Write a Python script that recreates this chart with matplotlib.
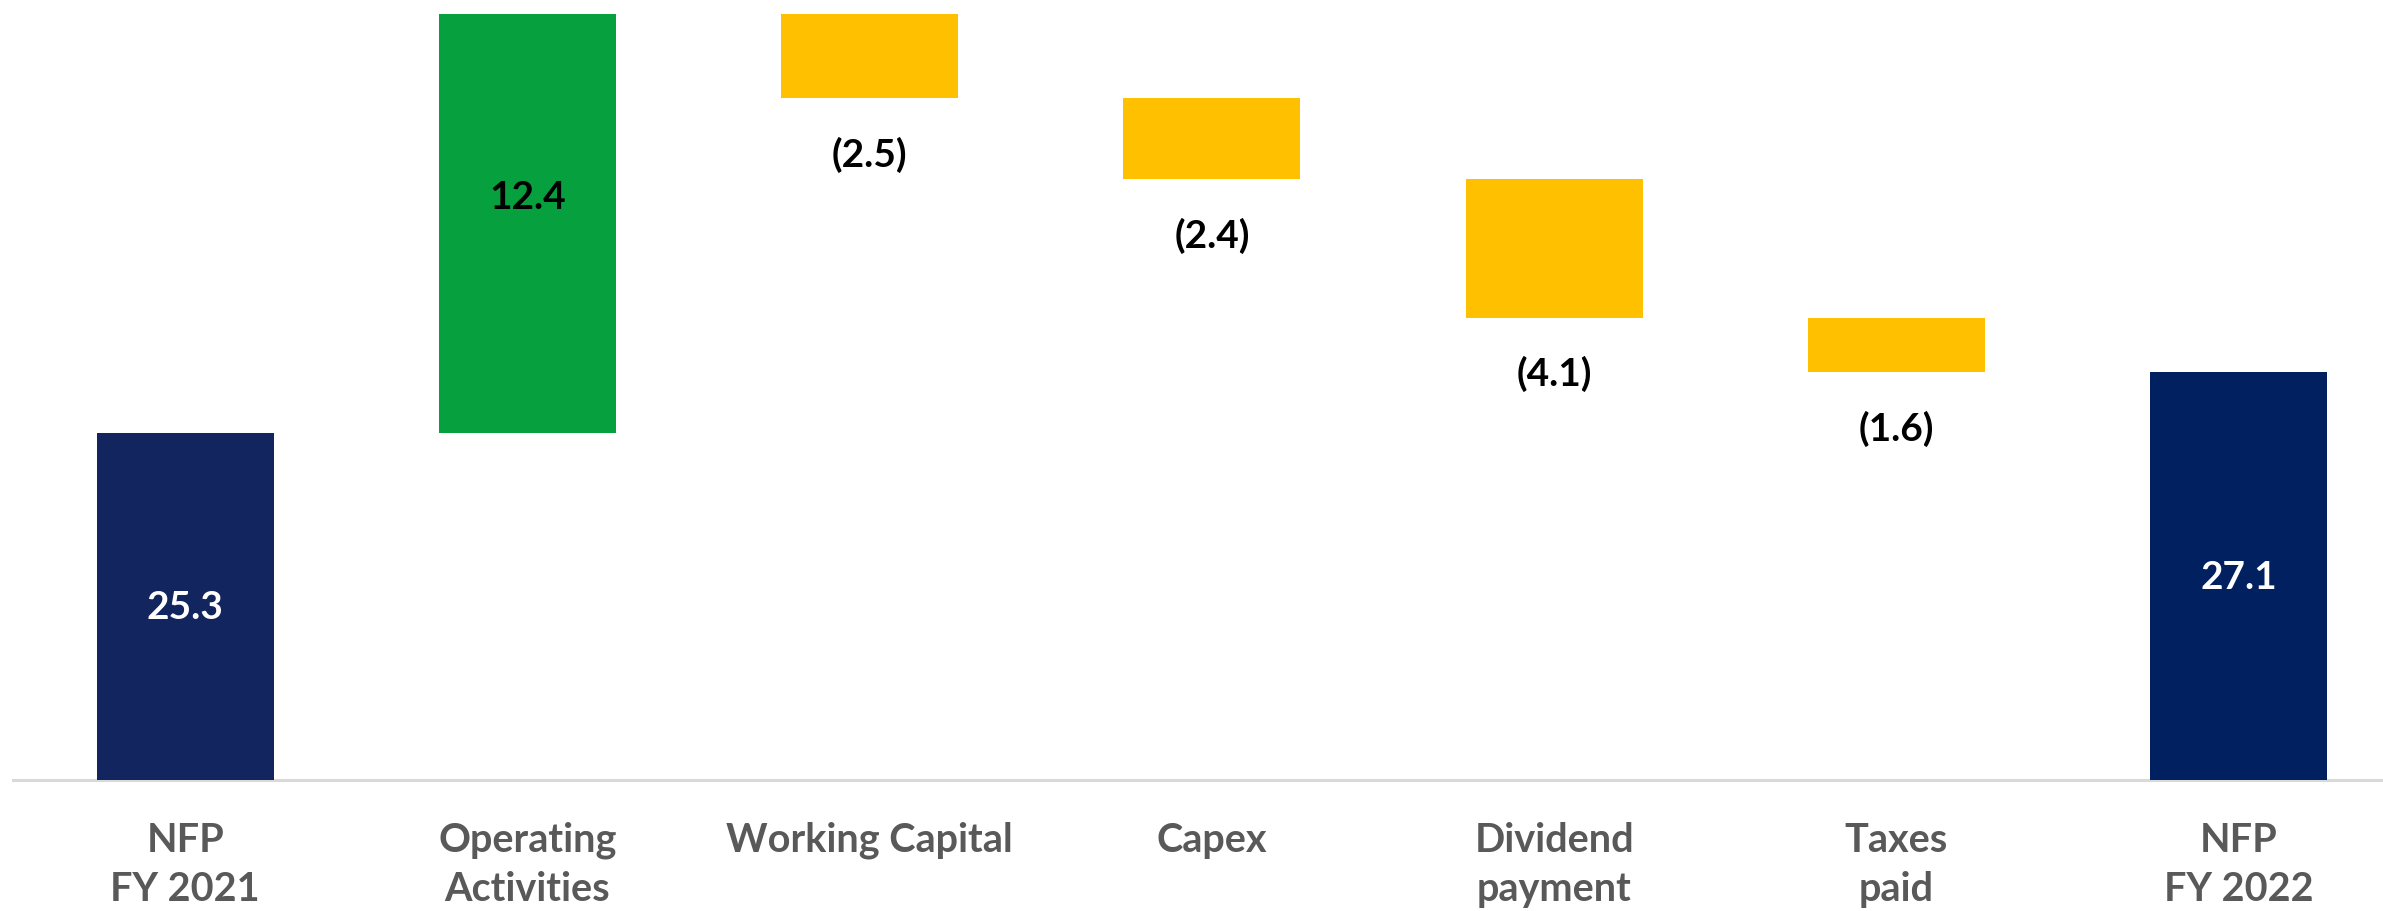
import matplotlib as mpl
mpl.use('Agg')
import matplotlib.pyplot as plt
import numpy as np

# waterfall data (EUR m)
categories = ['NFP\nFY 2021', 'Operating\nActivities', 'Working Capital', 'Capex',
              'Dividend\npayment', 'Taxes\npaid', 'NFP\nFY 2022']
start_value = 25.3
deltas = [12.4, -2.5, -2.4, -4.1, -1.6]
end_value = 27.1
value_labels = ['25.3', '12.4', '(2.5)', '(2.4)', '(4.1)', '(1.6)', '27.1']

NAVY_START = '#13255E'
NAVY_END = '#002060'
GREEN = '#07A03F'
YELLOW = '#FFC000'
GREY_TEXT = '#595959'

plt.rcParams['font.family'] = ['Lato', 'DejaVu Sans']

fig = plt.figure(figsize=(23.83, 9.12), dpi=100)
ax = fig.add_axes([13 / 2383, 0.1431, 1 - 13 / 2383, 1 - 0.1431])

y_min = 15.0

# bottoms / heights of each bar
bottoms = [y_min]
heights = [start_value - y_min]
running = start_value
for d in deltas:
    if d >= 0:
        bottoms.append(running)
        heights.append(d)
    else:
        bottoms.append(running + d)
        heights.append(-d)
    running += d
bottoms.append(y_min)
heights.append(end_value - y_min)

colors = [NAVY_START] + [GREEN if d >= 0 else YELLOW for d in deltas] + [NAVY_END]
x = np.arange(len(categories))
ax.bar(x, heights, bottom=bottoms, width=0.517, color=colors, zorder=2)

# value labels
for i in range(len(categories)):
    b = bottoms[i]
    h = heights[i]
    if i == 0 or i == len(categories) - 1:
        ax.text(x[i], b + h / 2, value_labels[i], ha='center', va='center',
                color='white', fontsize=28, fontweight='bold')
    elif deltas[i - 1] >= 0:
        ax.text(x[i], b + h * 0.563, value_labels[i], ha='center', va='center',
                color='black', fontsize=28, fontweight='bold')
    else:
        ax.annotate(value_labels[i], (x[i], b), xytext=(0, -40),
                    textcoords='offset points', ha='center', va='center',
                    color='black', fontsize=28, fontweight='bold')

ax.set_xlim(-0.5035, 6.422)
ax.set_ylim(y_min, 38.14)

for s in ['top', 'right', 'left']:
    ax.spines[s].set_visible(False)
ax.spines['bottom'].set_color('#D9D9D9')
ax.spines['bottom'].set_linewidth(2.2)
ax.spines['bottom'].set_zorder(1)

ax.set_yticks([])
ax.set_xticks(x)
ax.set_xticklabels(categories, fontsize=28.5, fontweight='bold', color=GREY_TEXT,
                   linespacing=1.4, va='top')
ax.tick_params(axis='x', length=0, pad=29)

fig.savefig('out.png', dpi=100, facecolor='white')
